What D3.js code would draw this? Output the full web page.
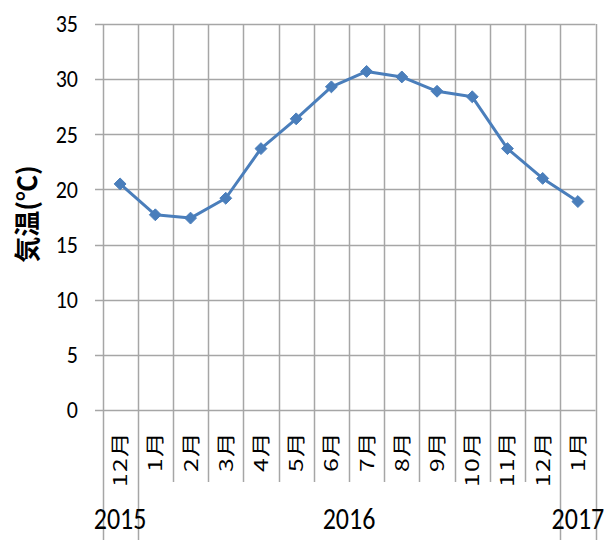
<!DOCTYPE html>
<html><head><meta charset="utf-8">
<script src="https://cdn.jsdelivr.net/npm/d3@7"></script>
<style>body{margin:0;background:#fff}svg{display:block}</style>
</head><body>
<script>
const months = ["12月","1月","2月","3月","4月","5月","6月","7月","8月","9月","10月","11月","12月","1月"];
const years = ["2015","2016","2017"];
const yearSpans = [[0,1],[1,13],[13,14]];
const temps = [20.5,17.7,17.4,19.2,23.7,26.4,29.3,30.7,30.2,28.9,28.4,23.7,21.0,18.9];
const yTicks = [0,5,10,15,20,25,30,35];

(function(){
const W=616,H=540;
const mL=102.5,mR=595.5,mT=24,mB=410;
const svg=d3.select("body").append("svg").attr("width",W).attr("height",H);
const font="Carlito, Calibri, 'Noto Sans', sans-serif";
const cjk="'Noto Sans CJK JP', sans-serif";
const x=d3.scaleBand().domain(d3.range(months.length)).range([mL,mR]).padding(0);
const y=d3.scaleLinear().domain([0,35]).range([mB,mT]);
const grid="#a6a6a6";

svg.append("g").selectAll("line").data(yTicks).join("line")
 .attr("x1",95).attr("x2",mR).attr("y1",d=>Math.round(y(d))+0.5).attr("y2",d=>Math.round(y(d))+0.5)
 .attr("stroke",grid).attr("stroke-width",1.5);
const bounds=d3.range(months.length+1);
const bx=i=>Math.round(i<months.length?x(i):mR)+0.5;
const yearBounds=new Set([0,1,13,14]);
svg.append("g").selectAll("line").data(bounds).join("line")
 .attr("x1",bx).attr("x2",bx).attr("y1",mT)
 .attr("y2",i=>yearBounds.has(i)?H:482)
 .attr("stroke",grid).attr("stroke-width",1.5);

svg.append("g").selectAll("text").data(yTicks).join("text")
 .attr("transform",d=>`translate(78,${y(d)}) scale(1,1.15)`)
 .attr("dy","0.33em").attr("text-anchor","end")
 .attr("font-family",font).attr("font-size",22).attr("fill","#000").text(d=>d);

svg.append("g").selectAll("text").data(months).join("text")
 .attr("transform",(d,i)=>`translate(${x(i)+x.bandwidth()/2+7},431) rotate(-90) scale(1.3,1)`)
 .attr("text-anchor","end").attr("letter-spacing",1)
 .attr("font-family",cjk).attr("font-size",19).attr("fill","#000").text(d=>d);

svg.append("g").selectAll("text").data(years).join("text")
 .attr("transform",(d,i)=>{const s=yearSpans[i];const cx=(x(s[0])+(s[1]<months.length?x(s[1]):mR))/2;return `translate(${cx},529) scale(1,1.16)`;})
 .attr("text-anchor","middle").attr("font-family",font).attr("font-size",26).attr("fill","#000").text(d=>d);

svg.append("text").attr("transform","translate(37,214) rotate(-90)").attr("text-anchor","middle")
 .attr("font-family",cjk).attr("font-weight","bold").attr("font-size",26).attr("fill","#000").text("気温(℃)");

const cx=i=>x(i)+x.bandwidth()/2;
svg.append("path").datum(temps)
 .attr("d",d3.line().x((d,i)=>cx(i)).y(d=>y(d)))
 .attr("fill","none").attr("stroke","#4a7ebb").attr("stroke-width",3).attr("stroke-linejoin","round");
svg.append("g").selectAll("path").data(temps).join("path")
 .attr("transform",(d,i)=>`translate(${cx(i)},${y(d)})`)
 .attr("d",d3.symbol().type(d3.symbolDiamond2).size(90)())
 .attr("fill","#4a7ebb").attr("stroke","#4a7ebb").attr("stroke-width",1);
})();
</script>
</body></html>
